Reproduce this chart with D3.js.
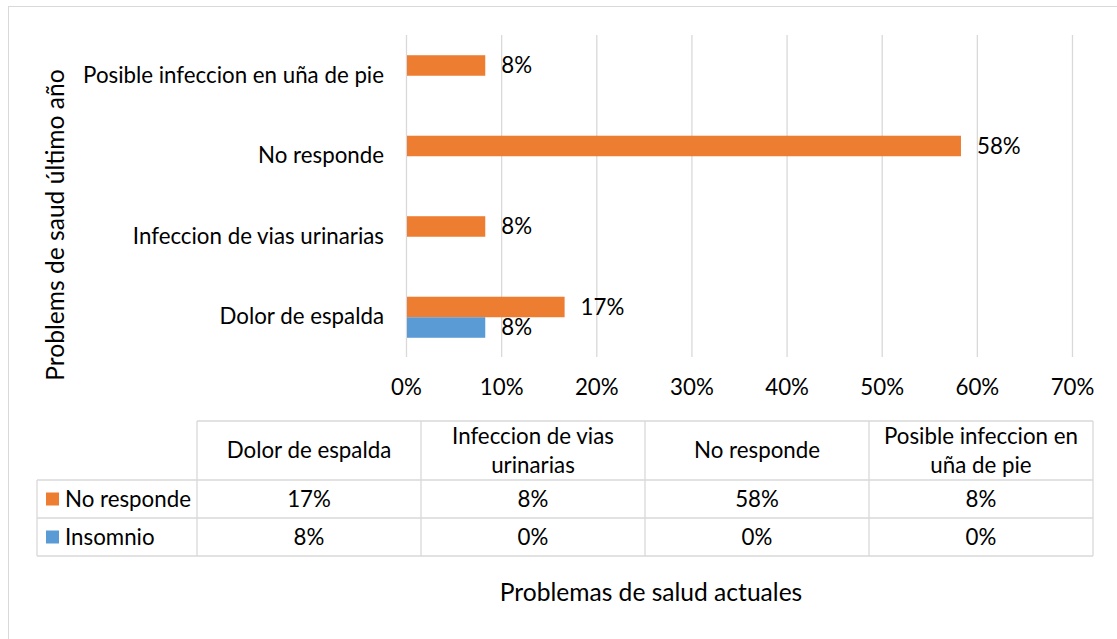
<!DOCTYPE html>
<html>
<head>
<meta charset="utf-8">
<script src="https://cdn.jsdelivr.net/npm/d3@7/dist/d3.min.js"></script>
<style>
body { margin: 0; background: #fff; }
svg { font-family: Lato, "Open Sans", sans-serif; }
</style>
</head>
<body>
<div class="featured"></div>
<script>
// categories as they appear in the data table (left to right)
var categories = ["Dolor de espalda", "Infeccion de vias urinarias", "No responde", "Posible infeccion en uña de pie"];
// header text of the table, wrapped like the original
var tableHeaders = [["Dolor de espalda"], ["Infeccion de vias", "urinarias"], ["No responde"], ["Posible infeccion en", "uña de pie"]];
var seriesNames = ["No responde", "Insomnio"];
var noResponde = [0.1667, 0.0833, 0.5833, 0.0833];
var insomnio = [0.0833, 0, 0, 0];
var seriesColors = ["#ED7D31", "#5B9BD5"];
var xTicks = [0, 0.1, 0.2, 0.3, 0.4, 0.5, 0.6, 0.7];

var width = 1117, height = 639;
var pct = d3.format(".0%");
var fs = 22.3, fsTitle = 24.6;

var svg = d3.select(".featured").append("svg")
	.attr("width", width)
	.attr("height", height);

// chart border
svg.append("rect")
	.attr("x", 8.5).attr("y", 6.5)
	.attr("width", 1130).attr("height", 660)
	.attr("fill", "none")
	.attr("stroke", "#D9D9D9");

var x = d3.scaleLinear().domain([0, 0.7]).range([406, 1072]);
// bars are drawn bottom-up: first category at the bottom
var y = d3.scaleBand()
	.domain(categories.slice().reverse())
	.range([35.5, 357.5])
	.paddingInner(0.49)
	.paddingOuter(0.245);
var ySub = d3.scaleBand().domain(seriesNames).range([0, y.bandwidth()]);

// gridlines + tick labels
var xAxis = d3.axisBottom(x).tickValues(xTicks).tickFormat(pct).tickSize(0).tickPadding(0);
var gx = svg.append("g").attr("transform", "translate(0,381)").call(xAxis);
gx.select(".domain").remove();
gx.selectAll("text").attr("font-size", fs).attr("fill", "#000").attr("font-family", "Lato").attr("dy", "0.32em").attr("y", 7);

svg.append("g").selectAll("line")
	.data(xTicks)
	.enter().append("line")
	.attr("x1", function(d) { return x(d) + 0.5; })
	.attr("x2", function(d) { return x(d) + 0.5; })
	.attr("y1", 35)
	.attr("y2", 357)
	.attr("stroke", "#D9D9D9")
	.attr("stroke-width", 1.3);

// category labels
var yAxis = d3.axisLeft(y).tickSize(0).tickPadding(0);
var gy = svg.append("g").attr("transform", "translate(384,0)").call(yAxis);
gy.select(".domain").remove();
gy.selectAll("text").attr("font-size", fs).attr("fill", "#000").attr("font-family", "Lato");

// bars
var seriesData = [noResponde, insomnio];
seriesNames.forEach(function(name, s) {
	var rows = categories.map(function(c, i) { return { c: c, v: seriesData[s][i] }; });
	var g = svg.append("g");
	g.selectAll("rect")
		.data(rows)
		.enter().append("rect")
		.attr("x", x(0) + 1)
		.attr("y", function(d) { return y(d.c) + ySub(name); })
		.attr("width", function(d) { return Math.max(0, x(d.v) - x(0) - 1); })
		.attr("height", ySub.bandwidth())
		.attr("fill", seriesColors[s]);
	g.selectAll("text")
		.data(rows.filter(function(d) { return d.v > 0; }))
		.enter().append("text")
		.attr("x", function(d) { return x(d.v) + 16; })
		.attr("y", function(d) { return y(d.c) + ySub(name) + ySub.bandwidth() / 2; })
		.attr("dy", "0.35em")
		.attr("font-size", fs)
		.attr("fill", "#000")
		.text(function(d) { return pct(d.v); });
});

// y axis title
svg.append("text")
	.attr("transform", "translate(55,225) rotate(-90)")
	.attr("text-anchor", "middle")
	.attr("dy", "0.35em")
	.attr("font-size", fsTitle)
	.attr("fill", "#000")
	.text("Problems de saud último año");

// data table
var colX = d3.scaleBand().domain(categories).range([197, 1093]);
var tLeft = 37, tTop = 421, headBottom = 480, rowH = 38;
var tbl = svg.append("g").attr("stroke", "#D9D9D9").attr("stroke-width", 1.3);
tbl.append("line").attr("x1", 197).attr("x2", 1093).attr("y1", tTop).attr("y2", tTop);
[0, 1, 2].forEach(function(r) {
	tbl.append("line").attr("x1", tLeft).attr("x2", 1093)
		.attr("y1", headBottom + r * rowH).attr("y2", headBottom + r * rowH);
});
tbl.append("line").attr("x1", tLeft).attr("x2", tLeft).attr("y1", headBottom).attr("y2", headBottom + 2 * rowH);
categories.forEach(function(c) {
	tbl.append("line").attr("x1", colX(c)).attr("x2", colX(c)).attr("y1", tTop).attr("y2", headBottom + 2 * rowH);
});
tbl.append("line").attr("x1", 1093).attr("x2", 1093).attr("y1", tTop).attr("y2", headBottom + 2 * rowH);

// headers
categories.forEach(function(c, i) {
	var lines = tableHeaders[i];
	var cy = (tTop + headBottom) / 2;
	var t = svg.append("text")
		.attr("text-anchor", "middle")
		.attr("font-size", fs)
		.attr("fill", "#000");
	lines.forEach(function(l, k) {
		t.append("tspan")
			.attr("x", colX(c) + colX.bandwidth() / 2)
			.attr("y", cy + (k - (lines.length - 1) / 2) * 29)
			.attr("dy", "0.35em")
			.text(l);
	});
});

// rows
seriesNames.forEach(function(name, s) {
	var cy = headBottom + s * rowH + rowH / 2;
	svg.append("rect")
		.attr("x", 46).attr("y", cy - 6.5)
		.attr("width", 13).attr("height", 13)
		.attr("fill", seriesColors[s]);
	svg.append("text")
		.attr("x", 65).attr("y", cy).attr("dy", "0.35em")
		.attr("font-size", fs).attr("fill", "#000")
		.text(name);
	svg.append("g").selectAll("text")
		.data(seriesData[s])
		.enter().append("text")
		.attr("x", function(d, i) { return colX(categories[i]) + colX.bandwidth() / 2; })
		.attr("y", cy)
		.attr("dy", "0.35em")
		.attr("text-anchor", "middle")
		.attr("font-size", fs)
		.attr("fill", "#000")
		.text(function(d) { return pct(d); });
});

// x axis title (below table)
svg.append("text")
	.attr("x", 651).attr("y", 592)
	.attr("dy", "0.35em")
	.attr("text-anchor", "middle")
	.attr("font-size", fsTitle)
	.attr("fill", "#000")
	.text("Problemas de salud actuales");
</script>
</body>
</html>
